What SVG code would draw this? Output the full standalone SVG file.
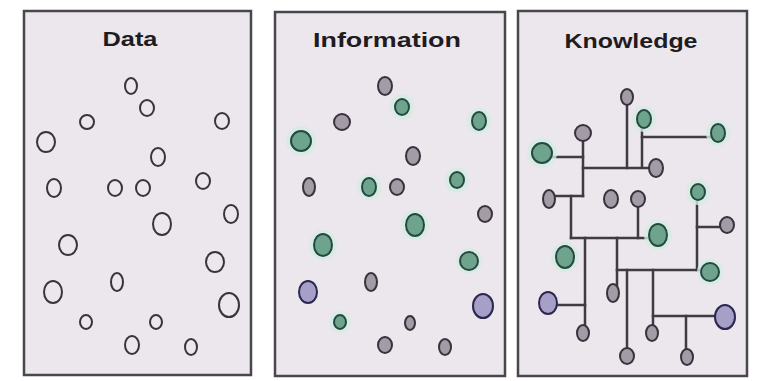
<svg xmlns="http://www.w3.org/2000/svg" width="760" height="381" viewBox="0 0 760 381">
<style>
.panel{fill:#ece6ed;stroke:#4a474c;stroke-width:2.5}
.title{font-family:"Liberation Sans",Arial,sans-serif;font-weight:bold;font-size:21px;fill:#1e1c20;text-anchor:middle}
.d{fill:none;stroke:#38353a;stroke-width:2}
.g{fill:#a39ba6;stroke:#37323b;stroke-width:2}
.gr{fill:#6ea38e;stroke:#254a3d;stroke-width:2}
.p{fill:#a69fc8;stroke:#2b2750;stroke-width:2}
.halo{fill:#d4ece3;opacity:0.8}
.c{fill:none;stroke:#3e3b41;stroke-width:2.5;stroke-linecap:square}
</style>
<rect width="760" height="381" fill="#ffffff"/>
<g id="panel-data"><rect class="panel" x="24" y="11" width="227" height="364"/><text class="title" x="130" y="46" textLength="55" lengthAdjust="spacingAndGlyphs">Data</text></g>
<g id="panel-information"><rect class="panel" x="275" y="12" width="230" height="364"/><text class="title" x="387" y="47" textLength="148" lengthAdjust="spacingAndGlyphs">Information</text></g>
<g id="panel-knowledge"><rect class="panel" x="518" y="11" width="229" height="365"/><text class="title" x="631" y="48" textLength="133" lengthAdjust="spacingAndGlyphs">Knowledge</text></g>

<!-- Data nodes -->
<g id="d1"><ellipse class="d" cx="131" cy="86" rx="6" ry="8"/></g>
<g id="d2"><ellipse class="d" cx="147" cy="108" rx="7" ry="8"/></g>
<g id="d3"><ellipse class="d" cx="87" cy="122" rx="7" ry="7"/></g>
<g id="d4"><ellipse class="d" cx="222" cy="121" rx="7" ry="8"/></g>
<g id="d5"><ellipse class="d" cx="46" cy="142" rx="9" ry="10"/></g>
<g id="d6"><ellipse class="d" cx="158" cy="157" rx="7" ry="9"/></g>
<g id="d7"><ellipse class="d" cx="54" cy="188" rx="7" ry="9"/></g>
<g id="d8"><ellipse class="d" cx="115" cy="188" rx="7" ry="8"/></g>
<g id="d9"><ellipse class="d" cx="143" cy="188" rx="7" ry="8"/></g>
<g id="d10"><ellipse class="d" cx="203" cy="181" rx="7" ry="8"/></g>
<g id="d11"><ellipse class="d" cx="231" cy="214" rx="7" ry="9"/></g>
<g id="d12"><ellipse class="d" cx="162" cy="224" rx="9" ry="11"/></g>
<g id="d13"><ellipse class="d" cx="68" cy="245" rx="9" ry="10"/></g>
<g id="d14"><ellipse class="d" cx="215" cy="262" rx="9" ry="10"/></g>
<g id="d15"><ellipse class="d" cx="117" cy="282" rx="6" ry="9"/></g>
<g id="d16"><ellipse class="d" cx="53" cy="292" rx="9" ry="11"/></g>
<g id="d17"><ellipse class="d" cx="229" cy="305" rx="10" ry="12"/></g>
<g id="d18"><ellipse class="d" cx="86" cy="322" rx="6" ry="7"/></g>
<g id="d19"><ellipse class="d" cx="156" cy="322" rx="6" ry="7"/></g>
<g id="d20"><ellipse class="d" cx="132" cy="345" rx="7" ry="9"/></g>
<g id="d21"><ellipse class="d" cx="191" cy="347" rx="6" ry="8"/></g>

<!-- Information nodes -->
<g id="i1"><ellipse class="g" cx="385" cy="86" rx="7" ry="9"/></g>
<g id="i2"><ellipse class="halo" cx="402" cy="107" rx="12" ry="13"/><ellipse class="gr" cx="402" cy="107" rx="7" ry="8"/></g>
<g id="i3"><ellipse class="g" cx="342" cy="122" rx="8" ry="8"/></g>
<g id="i4"><ellipse class="halo" cx="479" cy="121" rx="12" ry="13"/><ellipse class="gr" cx="479" cy="121" rx="7" ry="9"/></g>
<g id="i5"><ellipse class="halo" cx="301" cy="141" rx="15" ry="15"/><ellipse class="gr" cx="301" cy="141" rx="10" ry="10"/></g>
<g id="i6"><ellipse class="g" cx="413" cy="156" rx="7" ry="9"/></g>
<g id="i7"><ellipse class="g" cx="309" cy="187" rx="6" ry="9"/></g>
<g id="i8"><ellipse class="halo" cx="369" cy="187" rx="12" ry="13"/><ellipse class="gr" cx="369" cy="187" rx="7" ry="9"/></g>
<g id="i9"><ellipse class="g" cx="397" cy="187" rx="7" ry="8"/></g>
<g id="i10"><ellipse class="halo" cx="457" cy="180" rx="12" ry="13"/><ellipse class="gr" cx="457" cy="180" rx="7" ry="8"/></g>
<g id="i11"><ellipse class="g" cx="485" cy="214" rx="7" ry="8"/></g>
<g id="i12"><ellipse class="halo" cx="415" cy="225" rx="14" ry="15"/><ellipse class="gr" cx="415" cy="225" rx="9" ry="11"/></g>
<g id="i13"><ellipse class="halo" cx="323" cy="245" rx="14" ry="15"/><ellipse class="gr" cx="323" cy="245" rx="9" ry="11"/></g>
<g id="i14"><ellipse class="halo" cx="469" cy="261" rx="13" ry="13"/><ellipse class="gr" cx="469" cy="261" rx="9" ry="9"/></g>
<g id="i15"><ellipse class="g" cx="371" cy="282" rx="6" ry="9"/></g>
<g id="i16"><ellipse class="p" cx="308" cy="292" rx="9" ry="11"/></g>
<g id="i17"><ellipse class="p" cx="483" cy="306" rx="10" ry="12"/></g>
<g id="i18"><ellipse class="halo" cx="340" cy="322" rx="11" ry="11"/><ellipse class="gr" cx="340" cy="322" rx="6" ry="7"/></g>
<g id="i19"><ellipse class="g" cx="410" cy="323" rx="5" ry="7"/></g>
<g id="i20"><ellipse class="g" cx="385" cy="345" rx="7" ry="8"/></g>
<g id="i21"><ellipse class="g" cx="445" cy="347" rx="6" ry="8"/></g>

<!-- Knowledge connectors -->
<g id="connectors">
<path class="c" d="M627 104 V168"/>
<path class="c" d="M583 168 H650"/>
<path class="c" d="M642 126 V166"/>
<path class="c" d="M642 137 H710"/>
<path class="c" d="M583 141 V196"/>
<path class="c" d="M551 157 H583"/>
<path class="c" d="M556 196 H583"/>
<path class="c" d="M571 196 V238"/>
<path class="c" d="M571 238 H650"/>
<path class="c" d="M638 206 V238"/>
<path class="c" d="M585 238 V325"/>
<path class="c" d="M555 305 H585"/>
<path class="c" d="M617 238 V286"/>
<path class="c" d="M697 200 V270"/>
<path class="c" d="M697 227 H720"/>
<path class="c" d="M617 270 H702"/>
<path class="c" d="M627 270 V348"/>
<path class="c" d="M653 270 V326"/>
<path class="c" d="M653 316 H716"/>
<path class="c" d="M686 316 V349"/>
</g>

<!-- Knowledge nodes -->
<g id="k1"><ellipse class="g" cx="627" cy="97" rx="6" ry="8"/></g>
<g id="k2"><ellipse class="halo" cx="644" cy="119" rx="12" ry="13"/><ellipse class="gr" cx="644" cy="119" rx="7" ry="9"/></g>
<g id="k3"><ellipse class="g" cx="583" cy="133" rx="8" ry="8"/></g>
<g id="k4"><ellipse class="halo" cx="718" cy="133" rx="12" ry="13"/><ellipse class="gr" cx="718" cy="133" rx="7" ry="9"/></g>
<g id="k5"><ellipse class="halo" cx="542" cy="153" rx="15" ry="15"/><ellipse class="gr" cx="542" cy="153" rx="10" ry="10"/></g>
<g id="k6"><ellipse class="g" cx="656" cy="168" rx="7" ry="9"/></g>
<g id="k7"><ellipse class="g" cx="549" cy="199" rx="6" ry="9"/></g>
<g id="k8"><ellipse class="g" cx="611" cy="199" rx="7" ry="9"/></g>
<g id="k9"><ellipse class="g" cx="638" cy="199" rx="7" ry="8"/></g>
<g id="k10"><ellipse class="halo" cx="698" cy="192" rx="12" ry="13"/><ellipse class="gr" cx="698" cy="192" rx="7" ry="8"/></g>
<g id="k11"><ellipse class="g" cx="727" cy="225" rx="7" ry="8"/></g>
<g id="k12"><ellipse class="halo" cx="658" cy="235" rx="14" ry="15"/><ellipse class="gr" cx="658" cy="235" rx="9" ry="11"/></g>
<g id="k13"><ellipse class="halo" cx="565" cy="257" rx="14" ry="15"/><ellipse class="gr" cx="565" cy="257" rx="9" ry="11"/></g>
<g id="k14"><ellipse class="halo" cx="710" cy="272" rx="13" ry="13"/><ellipse class="gr" cx="710" cy="272" rx="9" ry="9"/></g>
<g id="k15"><ellipse class="g" cx="613" cy="293" rx="6" ry="9"/></g>
<g id="k16"><ellipse class="p" cx="548" cy="303" rx="9" ry="11"/></g>
<g id="k17"><ellipse class="p" cx="725" cy="317" rx="10" ry="12"/></g>
<g id="k18"><ellipse class="g" cx="583" cy="333" rx="6" ry="8"/></g>
<g id="k19"><ellipse class="g" cx="652" cy="333" rx="6" ry="8"/></g>
<g id="k20"><ellipse class="g" cx="627" cy="356" rx="7" ry="8"/></g>
<g id="k21"><ellipse class="g" cx="687" cy="357" rx="6" ry="8"/></g>
</svg>
